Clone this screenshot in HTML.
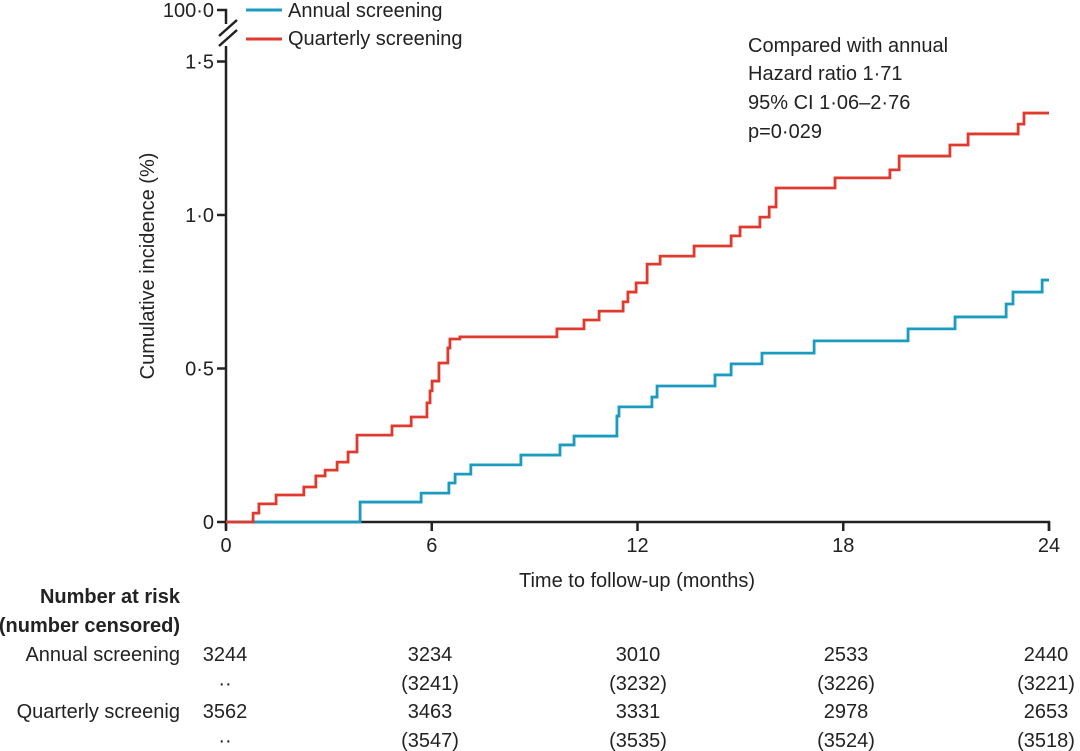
<!DOCTYPE html>
<html><head><meta charset="utf-8"><style>
body{margin:0;background:#fff;}
svg{display:block;font-family:"Liberation Sans",sans-serif;}
text{fill:#222;}
</style></head><body>
<svg id="c" width="1080" height="751" viewBox="0 0 1080 751">
<g id="axes"></g>
<g id="series"></g>
<g>
<line x1="246" y1="10" x2="282" y2="10" stroke="#1a9bbf" stroke-width="3"/>
<text x="288" y="17" font-size="20">Annual screening</text>
<line x1="246" y1="39" x2="282" y2="39" stroke="#e03a2e" stroke-width="3"/>
<text x="288" y="45" font-size="20">Quarterly screening</text>
</g>
<g font-size="20">
<text x="748" y="52">Compared with annual</text>
<text x="748" y="80">Hazard ratio 1·71</text>
<text x="748" y="109">95% CI 1·06–2·76</text>
<text x="748" y="138">p=0·029</text>
</g>
<text x="637" y="587" font-size="20" text-anchor="middle">Time to follow-up (months)</text>
<text transform="translate(154,266) rotate(-90)" font-size="20" text-anchor="middle">Cumulative incidence (%)</text>
<g id="risk" font-size="20">
<text x="180" y="603" text-anchor="end" font-weight="bold">Number at risk</text>
<text x="180" y="632" text-anchor="end" font-weight="bold">(number censored)</text>
<text x="180" y="661" text-anchor="end">Annual screening</text>
<text x="180" y="718" text-anchor="end">Quarterly screenig</text>
</g>
</svg>
<script>
const xTicks=[0,6,12,18,24];
const yTicks=[0,0.5,1.0,1.5];
const yTickLabels=["0","0·5","1·0","1·5"];
const annualTimes=[3.91,5.69,6.50,6.68,7.14,8.60,9.74,10.15,11.40,11.46,12.42,12.57,14.26,14.73,15.63,17.15,19.89,21.26,22.75,22.95,23.80];
const annualValues=[0.065,0.094,0.127,0.156,0.186,0.218,0.251,0.280,0.345,0.375,0.407,0.443,0.479,0.515,0.550,0.590,0.629,0.668,0.710,0.749,0.788];
const quarterlyTimes=[0.79,0.96,1.46,2.27,2.62,2.89,3.24,3.56,3.82,4.84,5.40,5.86,5.95,6.01,6.21,6.47,6.53,6.82,9.65,10.44,10.88,11.58,11.72,11.96,12.28,12.66,13.65,14.73,14.99,15.57,15.84,16.04,17.76,19.36,19.63,21.11,21.64,23.10,23.27];
const quarterlyValues=[0.029,0.059,0.088,0.114,0.150,0.169,0.195,0.228,0.283,0.313,0.342,0.388,0.427,0.459,0.518,0.567,0.596,0.603,0.629,0.658,0.687,0.717,0.749,0.779,0.840,0.866,0.899,0.932,0.961,0.993,1.026,1.088,1.121,1.147,1.192,1.228,1.264,1.296,1.332];
const riskAnnual=["3244","3234","3010","2533","2440"];
const censAnnual=["··","(3241)","(3232)","(3226)","(3221)"];
const riskQuarterly=["3562","3463","3331","2978","2653"];
const censQuarterly=["··","(3547)","(3535)","(3524)","(3518)"];
const endTime=24;
const NS="http://www.w3.org/2000/svg";
const X=t=>226+t*(823/24);
const Y=v=>522-v*307;
function mk(tag,attrs,parent){const e=document.createElementNS(NS,tag);for(const k in attrs)e.setAttribute(k,attrs[k]);parent.appendChild(e);return e;}
const ax=document.getElementById('axes');
let a=mk('path',{d:`M${X(0)} 529 L${X(0)} 522 L${X(24)} 522 L${X(24)} 531 M${X(0)} ${Y(1.5)} L${X(0)} 522`,stroke:'#222','stroke-width':2.5,fill:'none'},ax);


let br=mk('path',{d:`M${X(0)} ${Y(1.5)} L${X(0)} 46 M219 46 L237 30 M219 36 L237 20 M${X(0)} 24 L${X(0)} 10 L217 10`,stroke:'#222','stroke-width':2.5,fill:'none'},ax);


let t100=mk('text',{x:214,y:17,'font-size':20,'text-anchor':'end'},ax);t100.textContent='100·0';


xTicks.forEach(t=>{
 const l=mk('line',{x1:X(t),y1:522,x2:X(t),y2:531,stroke:'#222','stroke-width':2.5},ax);
 
 
 const tx=mk('text',{x:X(t),y:552,'font-size':20,'text-anchor':'middle'},ax);tx.textContent=t;
 
 
});
yTicks.forEach((v,i)=>{
 const l=mk('line',{x1:217,y1:Y(v),x2:X(0),y2:Y(v),stroke:'#222','stroke-width':2.5},ax);
 
 
 const tx=mk('text',{x:214,y:Y(v)+7,'font-size':20,'text-anchor':'end'},ax);tx.textContent=yTickLabels[i];
 
 
});
function stepPath(times,vals){let d=`M${X(0)} ${Y(0)}`;let prev=0;times.forEach((t,i)=>{d+=` L${X(t)} ${Y(prev)} L${X(t)} ${Y(vals[i])}`;prev=vals[i];});d+=` L${X(endTime)} ${Y(prev)}`;return d;}
const sg=document.getElementById('series');
const pa=mk('path',{d:stepPath(annualTimes,annualValues),stroke:'#1a9bbf','stroke-width':2.8,fill:'none'},sg);


const pq=mk('path',{d:stepPath(quarterlyTimes,quarterlyValues),stroke:'#e03a2e','stroke-width':2.8,fill:'none'},sg);


const rk=document.getElementById('risk');
const colX=[225,430,638,846,1046];
[[riskAnnual,661],[censAnnual,690],[riskQuarterly,718],[censQuarterly,747]].forEach(([arr,y],r)=>{
 arr.forEach((s,i)=>{
  const tx=mk('text',{x:colX[i],y:y,'text-anchor':'middle'},rk);tx.textContent=s;
  
  
 });
});
</script>
</body></html>
